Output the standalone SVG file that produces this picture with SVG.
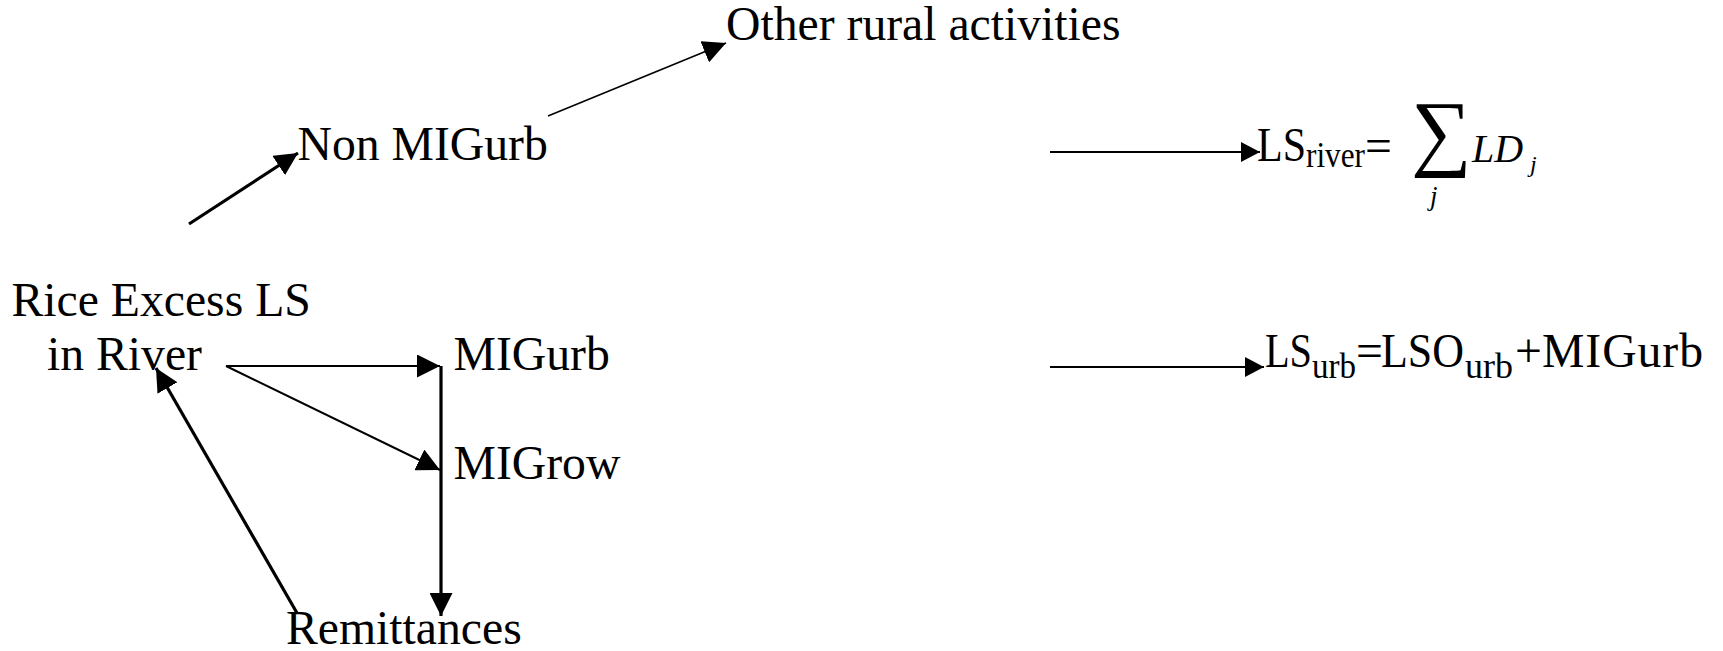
<svg xmlns="http://www.w3.org/2000/svg" width="1723" height="651" viewBox="0 0 1723 651">
<style>
text{font-family:"Liberation Serif","Times New Roman",serif;fill:#000}
.t{font-size:47.7px}
.sub{font-size:35px}
.it{font-style:italic}
.c{fill:none;stroke:#000}
.thin{stroke-width:1.6}
.med{stroke-width:2}
.thick{stroke-width:3.2}
</style>
<defs>
<marker id="ah" markerUnits="userSpaceOnUse" markerWidth="23" markerHeight="23" viewBox="0 0 23 23" refX="23" refY="11.5" orient="auto">
<path d="M0,0 L23,11.5 L0,23 z" fill="#000"/>
</marker>
<marker id="ahs" markerUnits="userSpaceOnUse" markerWidth="19" markerHeight="20" viewBox="0 0 19 20" refX="19" refY="10" orient="auto">
<path d="M0,0 L19,10 L0,20 z" fill="#000"/>
</marker>
</defs>
<rect width="1723" height="651" fill="#fff"/>
<g id="connectors">
<line class="c thick" x1="189" y1="224" x2="298" y2="153" marker-end="url(#ah)"/>
<line class="c thin" x1="548" y1="116" x2="726" y2="43" marker-end="url(#ah)"/>
<line class="c med" x1="1050" y1="152" x2="1260" y2="152" marker-end="url(#ahs)"/>
<line class="c med" x1="1050" y1="367" x2="1264" y2="367" marker-end="url(#ahs)"/>
<line class="c med" x1="226" y1="366" x2="440" y2="366" marker-end="url(#ah)"/>
<line class="c med" x1="226" y1="366" x2="440" y2="470" marker-end="url(#ah)"/>
<line class="c thick" x1="441" y1="366" x2="441" y2="616" marker-end="url(#ah)"/>
<line class="c thick" x1="297" y1="613" x2="156" y2="368" marker-end="url(#ah)"/>
</g>
<g id="other-rural"><text class="t" x="726" y="40">Other rural activities</text></g>
<g id="non-migurb"><text class="t" x="297.5" y="160">Non MIGurb</text></g>
<g id="rice-excess">
<text class="t" x="11.5" y="316">Rice Excess LS</text>
<text class="t" x="47" y="370">in River</text>
</g>
<g id="migurb"><text class="t" x="453.5" y="370">MIGurb</text></g>
<g id="migrow"><text class="t" x="453.5" y="479">MIGrow</text></g>
<g id="remittances"><text class="t" x="286" y="644">Remittances</text></g>
<g id="ls-river">
<text class="t" x="1257" y="161" textLength="49" lengthAdjust="spacingAndGlyphs">LS</text>
<text class="sub" x="1306" y="167" textLength="59" lengthAdjust="spacingAndGlyphs">river</text>
<text class="t" x="1365" y="162">=</text>
<text x="1411" y="160" style="font-size:85px">∑</text>
<text class="it" x="1430" y="205" style="font-size:27px">j</text>
<text class="it" x="1472" y="162" style="font-size:40px">LD</text>
<text class="it" x="1530" y="172" style="font-size:24px">j</text>
</g>
<g id="ls-urb">
<text class="t" x="1265" y="367" textLength="47" lengthAdjust="spacingAndGlyphs">LS</text>
<text class="sub" x="1312" y="378" textLength="44" lengthAdjust="spacingAndGlyphs">urb</text>
<text class="t" x="1356" y="367">=</text>
<text class="t" x="1381" y="367" textLength="83" lengthAdjust="spacingAndGlyphs">LSO</text>
<text class="sub" x="1465" y="378" textLength="48" lengthAdjust="spacingAndGlyphs">urb</text>
<text class="t" x="1515" y="367">+</text>
<text class="t" x="1542" y="367" textLength="161">MIGurb</text>
</g>
</svg>
